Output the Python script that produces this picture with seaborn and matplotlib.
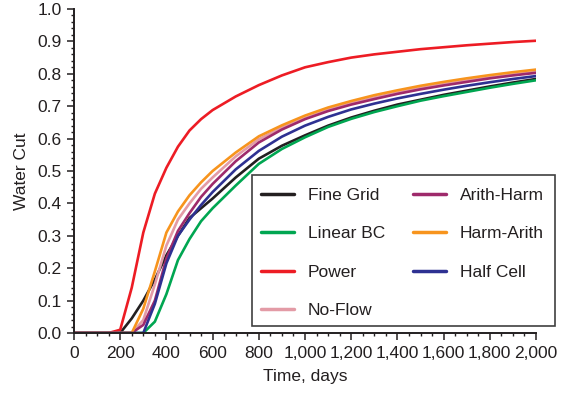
import numpy as np
import pandas as pd
import matplotlib
matplotlib.use("Agg")
import matplotlib.pyplot as plt
from matplotlib.patches import Rectangle
from matplotlib.ticker import MultipleLocator, FuncFormatter
import seaborn as sns

# Time steps (days)
time_days = [0, 100, 150, 200, 250, 300, 350, 400, 450, 500, 550, 600, 700, 800, 900,
             1000, 1100, 1200, 1300, 1400, 1500, 1600, 1700, 1800, 1900, 2000]

# Water cut for each upscaling method
fine_grid = [0, 0, 0, 0.0, 0.045, 0.10, 0.165, 0.24, 0.30, 0.355, 0.385, 0.415, 0.48, 0.538,
             0.578, 0.61, 0.64, 0.665, 0.686, 0.705, 0.72, 0.735, 0.748, 0.761, 0.773, 0.784]
linear_bc = [0, 0, 0, 0, 0, 0, 0.035, 0.12, 0.225, 0.29, 0.345, 0.385, 0.455, 0.522,
             0.568, 0.604, 0.636, 0.661, 0.682, 0.70, 0.717, 0.731, 0.744, 0.757, 0.769, 0.78]
power = [0, 0, 0, 0.01, 0.14, 0.31, 0.43, 0.51, 0.575, 0.625, 0.66, 0.688, 0.73, 0.765,
         0.795, 0.82, 0.836, 0.85, 0.86, 0.868, 0.876, 0.882, 0.888, 0.893, 0.898, 0.902]
no_flow = [0, 0, 0, 0, 0, 0.04, 0.15, 0.27, 0.35, 0.40, 0.445, 0.48, 0.545, 0.598,
           0.634, 0.663, 0.689, 0.709, 0.727, 0.742, 0.756, 0.768, 0.779, 0.789, 0.798, 0.806]
arith_harm = [0, 0, 0, 0, 0, 0.025, 0.10, 0.23, 0.315, 0.37, 0.42, 0.46, 0.53, 0.588,
              0.628, 0.66, 0.685, 0.705, 0.722, 0.738, 0.752, 0.764, 0.775, 0.786, 0.795, 0.803]
harm_arith = [0, 0, 0, 0, 0, 0.075, 0.19, 0.31, 0.375, 0.425, 0.465, 0.50, 0.557, 0.607,
              0.641, 0.671, 0.696, 0.716, 0.734, 0.749, 0.763, 0.775, 0.786, 0.796, 0.805, 0.813]
half_cell = [0, 0, 0, 0, 0, 0, 0.09, 0.215, 0.30, 0.35, 0.395, 0.435, 0.505, 0.562,
             0.606, 0.64, 0.667, 0.69, 0.708, 0.724, 0.738, 0.751, 0.763, 0.774, 0.784, 0.793]

case_names = ["Fine Grid", "Linear BC", "Power", "No-Flow",
              "Arith-Harm", "Harm-Arith", "Half Cell"]
series = [fine_grid, linear_bc, power, no_flow, arith_harm, harm_arith, half_cell]
colors = ["#231f20", "#00a651", "#ed1c24", "#e39ba6", "#9e2a6b", "#f7941d", "#2e3192"]

df = pd.concat(
    [pd.DataFrame({"Time": time_days, "Water Cut": vals, "Case": name})
     for name, vals in zip(case_names, series)],
    ignore_index=True,
)

sns.set_theme(style="ticks")
plt.rcParams["font.family"] = ["Liberation Sans", "DejaVu Sans"]
text_color = "#231f20"
plt.rcParams["text.color"] = text_color
plt.rcParams["axes.labelcolor"] = text_color
plt.rcParams["xtick.color"] = text_color
plt.rcParams["ytick.color"] = text_color

W, H = 566, 395
fig = plt.figure(figsize=(W / 100, H / 100), dpi=100)
ax = fig.add_axes([74 / W, 1 - 333 / H, (536 - 74) / W, (333 - 9) / H])

sns.lineplot(data=df, x="Time", y="Water Cut", hue="Case", hue_order=case_names,
             palette=dict(zip(case_names, colors)), linewidth=1.9, ax=ax,
             legend="full")
handles, labels = ax.get_legend_handles_labels()
ax.get_legend().remove()

ax.set_xlim(0, 2000)
ax.set_ylim(0, 1.0)
ax.xaxis.set_major_locator(MultipleLocator(200))
ax.xaxis.set_minor_locator(MultipleLocator(50))
ax.yaxis.set_major_locator(MultipleLocator(0.1))
ax.yaxis.set_minor_locator(MultipleLocator(0.02))
ax.xaxis.set_major_formatter(FuncFormatter(lambda v, p: f"{v:,.0f}"))
ax.yaxis.set_major_formatter(FuncFormatter(lambda v, p: f"{v:.1f}"))
ax.tick_params(axis="both", which="major", length=5, width=1.1, labelsize=12.5, pad=4)
ax.tick_params(axis="both", which="minor", length=2.5, width=1.0)
for side in ("top", "right"):
    ax.spines[side].set_visible(False)
for side in ("left", "bottom"):
    ax.spines[side].set_linewidth(1.4)
    ax.spines[side].set_color(text_color)

ax.set_xlabel("Time, days", fontsize=12.5, labelpad=6)
ax.set_ylabel("Water Cut", fontsize=12.5, labelpad=6)

# Legend frame drawn as a white box over the curves
frame = Rectangle((252 / W, 1 - 326 / H), (555 - 252) / W, (326 - 175) / H,
                  transform=fig.transFigure, facecolor="white", edgecolor="#404040",
                  linewidth=1.2, zorder=4, clip_on=False)
fig.add_artist(frame)

leg = fig.legend(handles, labels, ncol=2, loc="upper left",
                 bbox_to_anchor=(261 / W, 1 - 188 / H),
                 bbox_transform=fig.transFigure, borderaxespad=0, borderpad=0,
                 fontsize=12.5, frameon=False,
                 handlelength=1.9, handletextpad=0.8, labelspacing=1.33,
                 columnspacing=1.6)
leg.set_zorder(5)
for line in leg.get_lines():
    line.set_linewidth(2.5)

fig.savefig("out.png", dpi=100)
